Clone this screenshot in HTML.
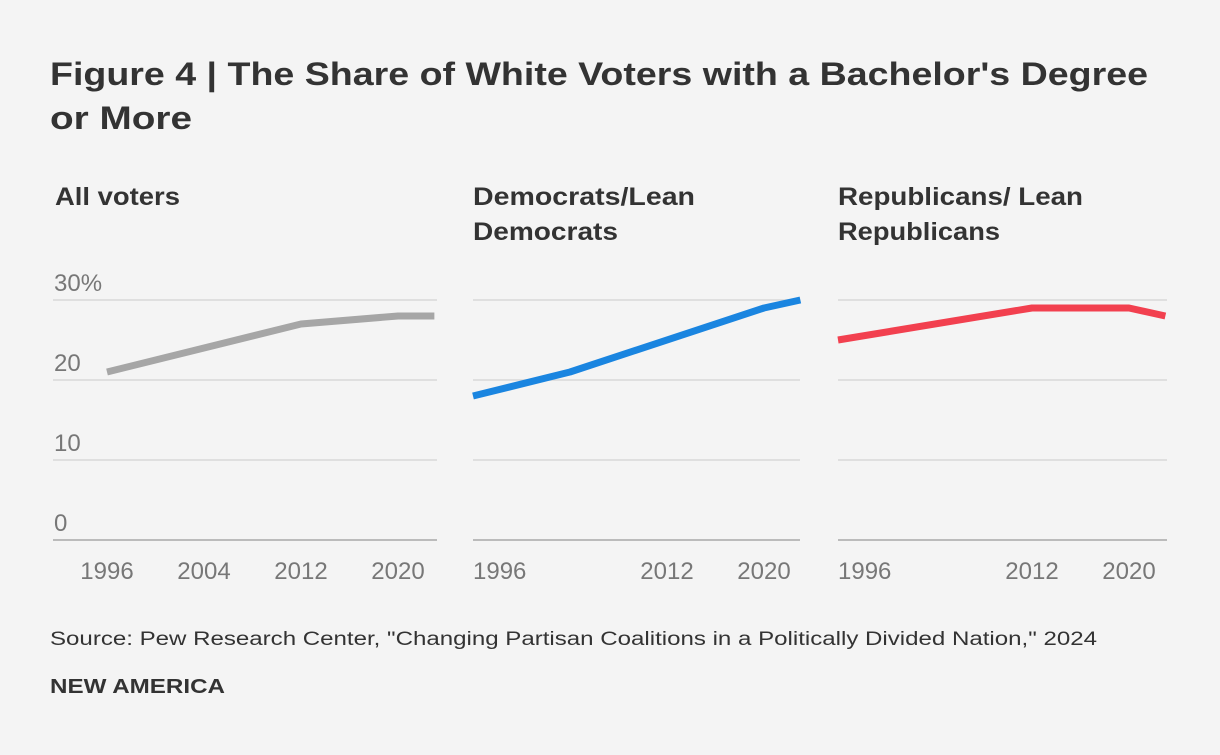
<!DOCTYPE html>
<html><head><meta charset="utf-8"><style>
body{margin:0;background:#f4f4f4;width:1220px;height:750px;overflow:hidden;font-family:"Liberation Sans",sans-serif;color:#333}
</style></head><body>
<svg width="1220" height="750" xmlns="http://www.w3.org/2000/svg">
<rect width="1220" height="750" fill="#f4f4f4"/>
<g font-family="Liberation Sans, sans-serif" fill="#333" font-weight="bold">
<text x="50" y="85" font-size="32" textLength="1098" lengthAdjust="spacingAndGlyphs">Figure 4 | The Share of White Voters with a Bachelor's Degree</text>
<text x="50" y="129" font-size="32" textLength="142" lengthAdjust="spacingAndGlyphs">or More</text>
</g>
<g id="panels"></g>
<text x="50" y="645" font-size="19" fill="#333" textLength="1047" lengthAdjust="spacingAndGlyphs">Source: Pew Research Center, "Changing Partisan Coalitions in a Politically Divided Nation," 2024</text>
<text x="50" y="693" font-size="20" font-weight="bold" fill="#333" textLength="175" lengthAdjust="spacingAndGlyphs">NEW AMERICA</text>
</svg>
<script>
const panelTitles=[["All voters"],["Democrats/Lean","Democrats"],["Republicans/ Lean","Republicans"]];
const panelTitleWidths=[[125],[222,145],[245,162]];
const allYears=[1996,2012,2020,2023];
const allValues=[21,27,28,28];
const demYears=[1996,2004,2020,2023];
const demValues=[18,21,29,30];
const repYears=[1996,2012,2020,2023];
const repValues=[25,29,29,28];
const yTicks=[0,10,20,30];
const yTickLabels=["0","10","20","30%"];
const xTicks1=[1996,2004,2012,2020];
const xTicks2=[1996,2012,2020];
const xTicks3=[1996,2012,2020];
const NS="http://www.w3.org/2000/svg";
const g=document.getElementById('panels');
function el(t,a,p){const e=document.createElementNS(NS,t);for(const k in a)e.setAttribute(k,a[k]);(p||g).appendChild(e);return e;}
const y=v=>540-v*8;
const panels=[
 {x0:53,x1:437,start:107,title:panelTitles[0],years:allYears,vals:allValues,ticks:xTicks1,color:"#a6a6a6",yl:true,name:"all-voters"},
 {x0:473,x1:800,start:473,title:panelTitles[1],years:demYears,vals:demValues,ticks:xTicks2,color:"#1a85e0",name:"democrats"},
 {x0:838,x1:1167,start:838,title:panelTitles[2],years:repYears,vals:repValues,ticks:xTicks3,color:"#f2404f",name:"republicans"}];
const yr2px=12.125;
panels.forEach((p,i)=>{
 const gg=el('g',{});
 
 
 const xs=v=>p.start+(v-1996)*yr2px;
 p.title.forEach((t,j)=>{const tx=el('text',{x:p.x0+(i==0?2:0),y:205+j*35,'font-size':25,'font-weight':'bold',fill:'#333',textLength:panelTitleWidths[i][j],lengthAdjust:'spacingAndGlyphs'},gg);tx.textContent=t;
  
  });
 yTicks.forEach((v,k)=>{const ln=el('line',{x1:p.x0,x2:p.x1,y1:y(v),y2:y(v),stroke:v==0?'#bbb':'#d8d8d8','stroke-width':v==0?2:1.5},gg);
  
  
  if(p.yl){const t=el('text',{x:54,y:y(v)-9,'font-size':24,fill:'#777'},gg);t.textContent=yTickLabels[k];
   
   }});
 p.ticks.forEach(v=>{const left=(i>0&&v==1996);const t=el('text',{x:left?p.x0:xs(v),y:579,'font-size':24,fill:'#777','text-anchor':left?'start':'middle'},gg);t.textContent=v;
  
  });
 const pts=p.years.map((yy,k)=>xs(yy)+','+y(p.vals[k])).join(' ');
 const pl=el('polyline',{points:pts,fill:'none',stroke:p.color,'stroke-width':7,'stroke-linejoin':'round'},gg);
 
 
});
</script>
</body></html>
